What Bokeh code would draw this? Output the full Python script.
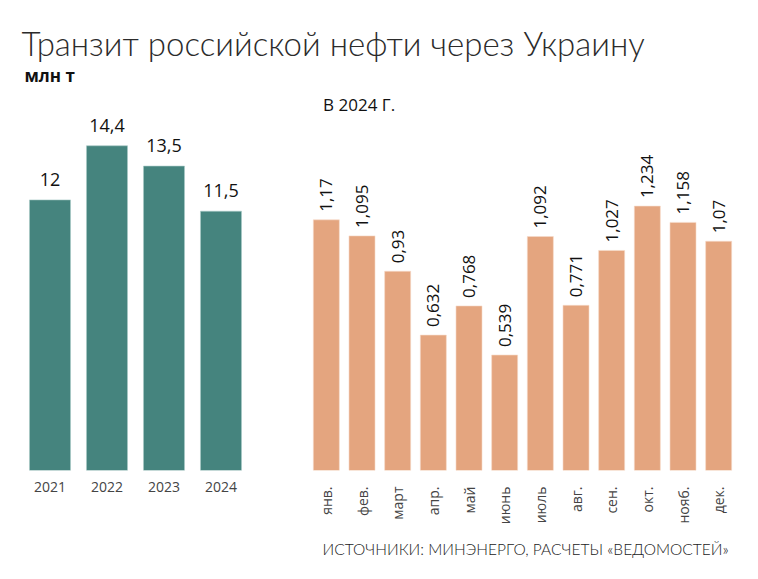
from math import pi
from bokeh.plotting import figure
from bokeh.models import ColumnDataSource, FactorRange, Range1d, LabelSet, Label
from bokeh.core.properties import value
from bokeh.layouts import column, row
from bokeh.embed import file_html
from bokeh.resources import INLINE

# ---- data ----
years = ["2021", "2022", "2023", "2024"]
year_values = [12, 14.4, 13.5, 11.5]

months = ["янв.", "фев.", "март", "апр.", "май", "июнь", "июль", "авг.", "сен.", "окт.", "нояб.", "дек."]
month_values = [1.17, 1.095, 0.93, 0.632, 0.768, 0.539, 1.092, 0.771, 1.027, 1.234, 1.158, 1.07]

title_text = "Транзит российской нефти через Украину"
unit_text = "млн т"
sub_text = "В 2024 Г."
source_text = "ИСТОЧНИКИ: МИНЭНЕРГО, РАСЧЕТЫ «ВЕДОМОСТЕЙ»"

TEAL = "#45847e"
ORANGE = "#e4a57f"
FONT = "Open Sans"
LIGHT = "Lato Light"

HDR_H = 90
FTR_H = 52
ROW_H = 579 - HDR_H - FTR_H
TOP = 5
BOTTOM = 55
FRAME_H = ROW_H - BOTTOM - TOP


def fmt(v):
    return f"{v:g}".replace(".", ",")


def base_fig(**kw):
    p = figure(output_backend="svg", toolbar_location=None, **kw)
    p.outline_line_color = None
    p.grid.visible = False
    p.background_fill_color = "white"
    p.border_fill_color = "white"
    return p


# ---- header ----
hdr = base_fig(width=758, height=HDR_H, x_range=Range1d(0, 758), y_range=Range1d(HDR_H, 0),
               x_axis_location=None, y_axis_location=None,
               min_border_left=0, min_border_right=0, min_border_top=0, min_border_bottom=0)
hdr.add_layout(Label(x=21, y=42, text=title_text, text_font=LIGHT,
                     text_font_size="33px", text_color="#2b2b2b", text_baseline="alphabetic"))
hdr.add_layout(Label(x=24, y=75, text=unit_text, text_font=FONT, text_font_style="bold",
                     text_font_size="17px", text_color="#111111", text_baseline="alphabetic"))

# ---- left chart: yearly ----
src1 = ColumnDataSource(dict(x=years, top=year_values, lab=[fmt(v) for v in year_values]))
p1 = base_fig(width=280, height=ROW_H, x_range=FactorRange(*years), y_range=Range1d(0, FRAME_H / 22.67),
              y_axis_location=None,
              min_border_left=21, min_border_right=31, min_border_top=TOP, min_border_bottom=BOTTOM)
p1.vbar(x="x", top="top", width=0.72, source=src1, fill_color=TEAL, line_color="#a9cbc7", line_width=0.6)
p1.add_layout(LabelSet(x="x", y="top", text="lab", source=src1, text_align="center",
                       text_baseline="alphabetic", y_offset=14, text_font=value(FONT),
                       text_font_size=value("18px"), text_color="#111111"))
p1.xaxis.axis_line_color = None
p1.xaxis.major_tick_line_color = None
p1.xaxis.minor_tick_line_color = None
p1.xaxis.major_label_text_font = FONT
p1.xaxis.major_label_text_font_size = "14px"
p1.xaxis.major_label_text_color = "#444444"
p1.xaxis.major_label_standoff = 5

# ---- right chart: monthly ----
src2 = ColumnDataSource(dict(x=months, top=month_values, lab=[fmt(v) for v in month_values]))
p2 = base_fig(width=478, height=ROW_H, x_range=FactorRange(*months), y_range=Range1d(0, FRAME_H / 215.4),
              y_axis_location=None,
              min_border_left=28, min_border_right=22, min_border_top=TOP, min_border_bottom=BOTTOM)
p2.vbar(x="x", top="top", width=0.73, source=src2, fill_color=ORANGE, line_color="#f6dccb", line_width=0.6)
p2.add_layout(LabelSet(x="x", y="top", text="lab", source=src2, angle=pi / 2, text_align="left",
                       text_baseline="middle", y_offset=8, text_font=value(FONT),
                       text_font_size=value("17px"), text_color="#111111"))
p2.add_layout(Label(x=0.41, y=(472 - 104) / 215.4, text=sub_text, text_font=FONT,
                    text_font_size="17px", text_color="#111111", text_baseline="alphabetic"))
p2.xaxis.axis_line_color = None
p2.xaxis.major_tick_line_color = None
p2.xaxis.minor_tick_line_color = None
p2.xaxis.major_label_orientation = pi / 2
p2.xaxis.major_label_text_font = FONT
p2.xaxis.major_label_text_font_size = "14px"
p2.xaxis.major_label_text_color = "#444444"
p2.xaxis.major_label_standoff = 10

# ---- footer ----
ftr = base_fig(width=758, height=FTR_H, x_range=Range1d(0, 758), y_range=Range1d(FTR_H, 0),
               x_axis_location=None, y_axis_location=None,
               min_border_left=0, min_border_right=0, min_border_top=0, min_border_bottom=0)
ftr.add_layout(Label(x=322, y=21, text=source_text, text_font=LIGHT,
                     text_font_size="15.5px", text_color="#222222", text_baseline="alphabetic"))

layout = column(hdr, row(p1, p2, spacing=0), ftr, spacing=0)
open("out.html", "w").write(file_html(layout, INLINE))
